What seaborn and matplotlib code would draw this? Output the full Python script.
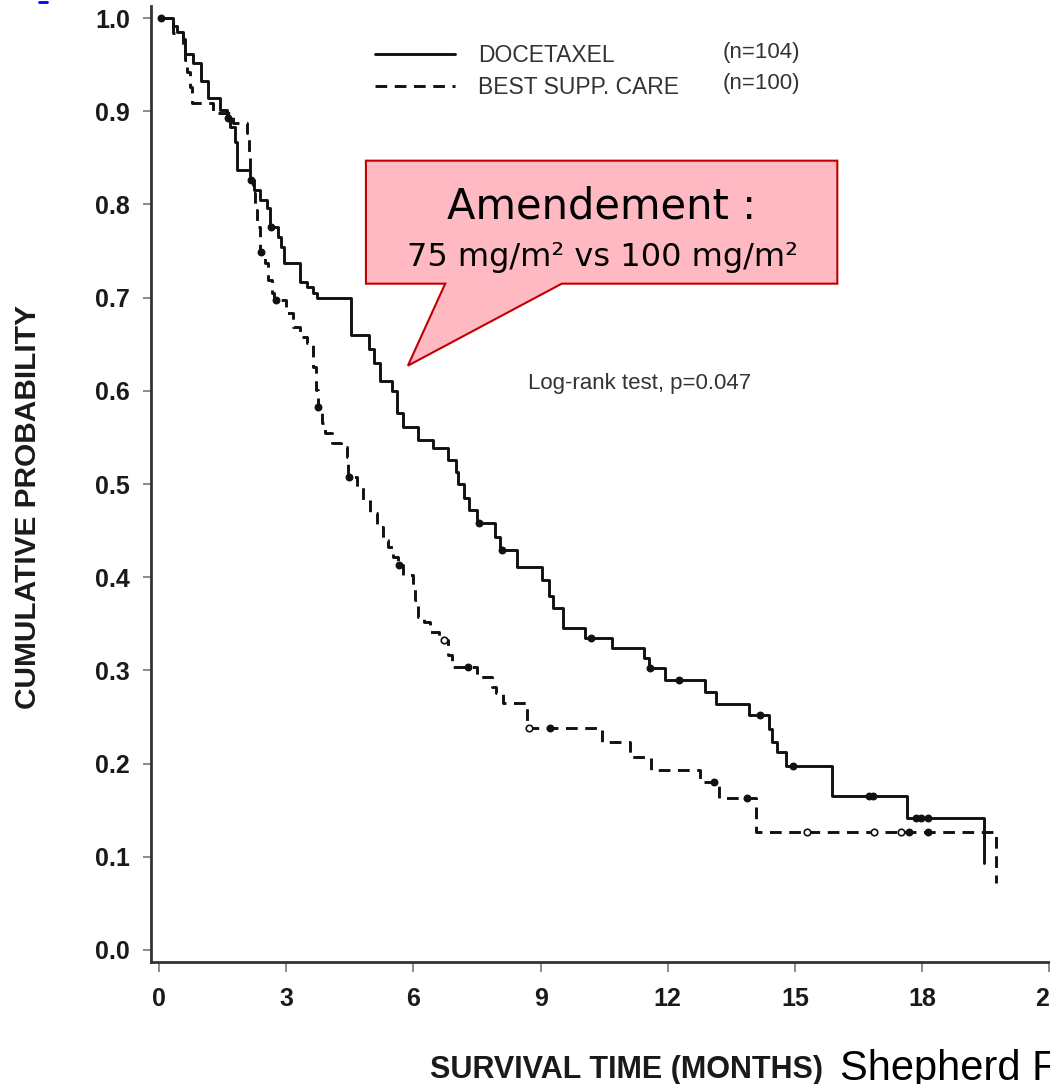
import numpy as np
import pandas as pd
import seaborn as sns
import matplotlib
matplotlib.use('Agg')
import matplotlib.pyplot as plt
from matplotlib.patches import Polygon

# Kaplan-Meier steps: time (months) where the curve drops, survival after the drop
doc_time = [0.0, 0.33, 0.43, 0.57, 0.61, 0.80, 1.00, 1.16, 1.44, 1.60, 1.67, 1.79, 1.84,
            2.15, 2.25, 2.38, 2.55, 2.62, 2.81, 2.88, 2.94, 3.33, 3.49, 3.63, 3.72,
            4.52, 4.95, 5.08, 5.21, 5.50, 5.61, 5.75, 6.10, 6.46, 6.81, 7.00, 7.05,
            7.20, 7.30, 7.50, 7.92, 8.05, 8.44, 9.03, 9.20, 9.29, 9.53, 10.05, 10.68,
            11.45, 11.56, 11.93, 12.88, 13.14, 13.92, 14.40, 14.46, 14.58, 14.79,
            15.87, 17.64, 19.46]
doc_surv = [1.0, 0.992, 0.985, 0.978, 0.962, 0.952, 0.933, 0.914, 0.901, 0.893, 0.883, 0.867, 0.837,
            0.826, 0.815, 0.805, 0.796, 0.776, 0.765, 0.754, 0.737, 0.717, 0.711, 0.705, 0.700,
            0.660, 0.645, 0.630, 0.611, 0.600, 0.576, 0.561, 0.547, 0.539, 0.526, 0.513, 0.500,
            0.485, 0.472, 0.458, 0.443, 0.429, 0.411, 0.397, 0.380, 0.367, 0.345, 0.335, 0.324,
            0.313, 0.303, 0.290, 0.277, 0.264, 0.252, 0.237, 0.223, 0.212, 0.197,
            0.165, 0.142, 0.093]

bsc_time = [0.0, 0.33, 0.57, 0.62, 0.66, 0.72, 0.78, 1.28, 1.75, 2.07, 2.12, 2.15, 2.22,
            2.26, 2.31, 2.38, 2.50, 2.57, 2.67, 2.72, 3.00, 3.16, 3.33, 3.49, 3.63, 3.70,
            3.75, 3.84, 3.92, 4.08, 4.30, 4.43, 4.46, 4.67, 4.81, 4.98, 5.14, 5.28, 5.40,
            5.52, 5.64, 5.75, 5.99, 6.04, 6.10, 6.25, 6.39, 6.60, 6.82, 6.91, 7.50, 7.85,
            7.95, 8.11, 8.68, 10.45, 11.12, 11.60, 12.76, 13.20, 14.08, 19.74]
bsc_surv = [1.0, 0.984, 0.969, 0.955, 0.942, 0.926, 0.909, 0.898, 0.887, 0.877, 0.850, 0.826, 0.812,
            0.794, 0.776, 0.749, 0.737, 0.719, 0.705, 0.697, 0.683, 0.668, 0.658, 0.651, 0.626, 0.601,
            0.583, 0.566, 0.555, 0.544, 0.540, 0.529, 0.508, 0.497, 0.483, 0.469, 0.454, 0.440, 0.432,
            0.422, 0.413, 0.402, 0.390, 0.376, 0.357, 0.352, 0.341, 0.333, 0.317, 0.304, 0.293, 0.282,
            0.276, 0.265, 0.238, 0.223, 0.207, 0.193, 0.180, 0.163, 0.126, 0.072]

# censored observations (times only, the height comes from the curve)
doc_cens = [0.05, 1.62, 2.17, 2.64, 7.55, 8.10, 10.19, 11.58, 12.26, 14.17, 14.95,
            16.75, 16.85, 17.85, 17.98, 18.15]
bsc_cens = [2.40, 2.75, 3.76, 4.47, 5.66, 6.72, 7.29, 8.72, 9.22, 13.10, 13.87,
            15.28, 16.86, 17.50, 17.70, 18.14]
bsc_cens_open = [False, False, False, False, False, True, False, True, False, False, False,
                 True, True, True, False, False]

x_ticks = [0, 3, 6, 9, 12, 15, 18, 21]
y_ticks = [0.0, 0.1, 0.2, 0.3, 0.4, 0.5, 0.6, 0.7, 0.8, 0.9, 1.0]
group_names = ['DOCETAXEL', 'BEST SUPP. CARE']
group_n = ['(n=104)', '(n=100)']


def surv_at(times, surv, t):
    i = np.searchsorted(times, t, side='right') - 1
    return np.asarray(surv)[i]


sns.set_theme(style='ticks')
plt.rcParams['font.family'] = ['Liberation Sans', 'DejaVu Sans']

W, H = 1050, 1084
fig = plt.figure(figsize=(W / 100, H / 100), dpi=100)
ax = fig.add_axes([151 / W, 122 / H, 911 / W, 956 / H])

doc = pd.DataFrame({'t': doc_time, 's': doc_surv})
bsc = pd.DataFrame({'t': bsc_time, 's': bsc_surv})

sns.lineplot(data=doc, x='t', y='s', drawstyle='steps-post', estimator=None,
             color='#111111', lw=2.1, ax=ax, label=group_names[0])
sns.lineplot(data=bsc, x='t', y='s', drawstyle='steps-post', estimator=None,
             color='#111111', lw=2.1, ax=ax, label=group_names[1])
ax.lines[1].set_dashes((4, 2.6))

# censor ticks
dc = np.array(doc_cens)
sns.scatterplot(x=dc, y=surv_at(doc_time, doc_surv, dc), s=22, color='#111111',
                edgecolor='#111111', linewidth=1, legend=False, ax=ax, zorder=3)
bc = np.array(bsc_cens)
bo = np.array(bsc_cens_open)
by = surv_at(bsc_time, bsc_surv, bc)
sns.scatterplot(x=bc[~bo], y=by[~bo], s=22, color='#111111', edgecolor='#111111',
                linewidth=1, legend=False, ax=ax, zorder=3)
sns.scatterplot(x=bc[bo], y=by[bo], s=22, color='white', edgecolor='#111111',
                linewidth=1.2, legend=False, ax=ax, zorder=3)

ax.set_xlim(-0.19, 21.3)
ax.set_ylim(-0.013, 1.013)
ax.set_xticks(x_ticks)
ax.set_yticks(y_ticks)
ax.set_yticklabels([f'{v:.1f}' for v in y_ticks])
ax.set_xlabel('')
ax.set_ylabel('')
sns.despine(ax=ax)
for side in ['left', 'bottom']:
    ax.spines[side].set_color('#333333')
    ax.spines[side].set_linewidth(2)
ax.tick_params(axis='y', length=6, width=1.2, color='#777777', pad=9, labelsize=18,
               labelcolor='#1a1a1a')
ax.tick_params(axis='x', length=7, width=1.2, color='#777777', pad=11, labelsize=18,
               labelcolor='#1a1a1a')
for lab in ax.get_xticklabels() + ax.get_yticklabels():
    lab.set_fontweight('bold')

# legend
handles, labels = ax.get_legend_handles_labels()
ax.legend(handles, labels, loc='upper left', bbox_to_anchor=(5.09, 0.972),
          bbox_transform=ax.transData, frameon=False, fontsize=16.5, labelcolor='#333333',
          handlelength=3.5, handletextpad=1.0, labelspacing=0.38, borderpad=0, borderaxespad=0)
ax.text(13.3, 0.9635, group_n[0], fontsize=16, color='#333333', va='center')
ax.text(13.3, 0.930, group_n[1], fontsize=16, color='#333333', va='center')

ax.text(8.70, 0.608, 'Log-rank test, p=0.047', fontsize=16, color='#333333', va='center')

# callout
callout = Polygon([(4.88, 0.847), (16.0, 0.847), (16.0, 0.715), (9.50, 0.715),
                   (5.87, 0.627), (6.75, 0.715), (4.88, 0.715)],
                  closed=True, facecolor='#FFB9C3', edgecolor='#C00000', lw=1.5, zorder=4)
ax.add_patch(callout)
ax.text(10.45, 0.785, 'Amendement :', fontsize=30, family='DejaVu Sans', color='black',
        ha='center', va='baseline', zorder=5)
ax.text(10.45, 0.734, '75 mg/m² vs 100 mg/m²', fontsize=23, family='DejaVu Sans',
        color='black', ha='center', va='baseline', zorder=5)

# axis titles
fig.text(28 / W, 1 - 507 / H, 'CUMULATIVE PROBABILITY', rotation=90, fontsize=21.5,
         fontweight='bold', color='#1a1a1a', ha='center', va='center')
fig.text(430 / W, 6 / H, 'SURVIVAL TIME (MONTHS)', fontsize=22, fontweight='bold',
         color='#1a1a1a', ha='left', va='baseline')
fig.text(840 / W, 4 / H, 'Shepherd FA', fontsize=30, color='black', ha='left', va='baseline')

fig.add_artist(plt.Line2D([39 / W, 47 / W], [1 - 1.5 / H, 1 - 1.5 / H], color='#0000EE', lw=2))

fig.savefig('out.png', dpi=100)
